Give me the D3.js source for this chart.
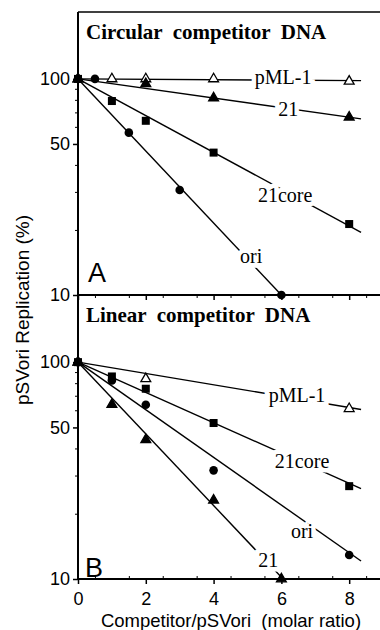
<!DOCTYPE html>
<html>
<head>
<meta charset="utf-8">
<script src="https://cdn.jsdelivr.net/npm/d3@7"></script>
<style>
  body { margin: 0; background: #fff; }
  .tick text { font-family: "Liberation Sans", Arial, sans-serif; }
</style>
</head>
<body>
<svg id="chart" width="380" height="630"></svg>
<script>
// ---- data (molar ratio vs % replication) ----
var circPml1 = [[0, 100], [1, 100], [2, 100], [4, 100], [8, 97.5]];
var circ21 = [[0, 100], [2, 95], [4, 81.5], [8, 66.5]];
var circ21core = [[0, 100], [1, 79], [2, 64], [4, 45.6], [8, 21.3]];
var circOri = [[0, 100], [0.5, 100], [1.5, 56.4], [3, 30.6], [6, 10]];

var linPml1 = [[0, 100], [2, 83.8], [8, 61]];
var lin21core = [[0, 100], [1, 85.9], [2, 75.4], [4, 52.4], [8, 26.8]];
var linOri = [[0, 100], [1, 82.4], [2, 63.6], [4, 31.7], [8, 12.9]];
var lin21 = [[0, 100], [1, 63.8], [2, 43.9], [4, 23.1], [6, 10]];

// fitted lines: start and end points
var circFits = { "pML-1": [[0, 100], [8.35, 98.2]], "21": [[0, 100], [8.35, 65.3]],
                 "21core": [[0, 100], [8.35, 19.5]], "ori": [[0, 100], [6, 10]] };
var linFits = { "pML-1": [[0, 100], [8.35, 60.5]], "21core": [[0, 100], [8.35, 26.1]],
                "ori": [[0, 100], [8.35, 12.1]], "21": [[0, 100], [6.05, 10]] };

// label anchors (data coords)
var circLabels = [["pML-1", 6.05, 102], ["21", 6.2, 72.6], ["21core", 6.11, 29.0], ["ori", 5.11, 15.2]];
var linLabels = [["pML-1", 6.46, 70.2], ["21core", 6.61, 34.9], ["ori", 6.61, 16.6], ["21", 5.61, 12.2]];

var xTicks = [0, 2, 4, 6, 8];
var yTicks = [10, 50, 100];
var yMinor = [20, 30, 40, 60, 70, 80, 90];

var svg = d3.select("#chart");

var x = d3.scaleLinear().domain([0, 8.85]).range([78, 378]);

var serif = "'Liberation Serif', 'Times New Roman', serif";
var sans = "'Liberation Sans', Arial, sans-serif";

/**
 * draws one marker shape at (px, py)
 */
function drawMarker(g, kind, px, py) {
    if (kind === "circle") {
        g.append("circle").attr("cx", px).attr("cy", py).attr("r", 4.3).attr("fill", "black");
    } else if (kind === "square") {
        g.append("rect").attr("x", px - 4).attr("y", py - 4).attr("width", 8).attr("height", 8).attr("fill", "black");
    } else {
        var sym = d3.symbol().type(d3.symbolTriangle).size(42);
        g.append("path")
            .attr("d", sym())
            .attr("transform", "translate(" + px + "," + py + ")")
            .attr("fill", kind === "opentri" ? "white" : "black")
            .attr("stroke", "black")
            .attr("stroke-width", 1.3);
    }
}

function loadPanel(top, bottom, series, fits, labels, title, letter, showXLabels) {
    var y = d3.scaleLog().domain([10, 204]).range([bottom, top]);
    var g = svg.append("g");

    // fit lines
    Object.keys(fits).forEach(function(k) {
        var f = fits[k];
        g.append("line")
            .attr("x1", x(f[0][0])).attr("y1", y(f[0][1]))
            .attr("x2", x(f[1][0])).attr("y2", y(f[1][1]))
            .attr("stroke", "black").attr("stroke-width", 1.4);
    });

    // curve labels with white halo to break the lines
    labels.forEach(function(l) {
        g.append("text")
            .attr("x", x(l[1])).attr("y", y(l[2]))
            .attr("dy", "0.35em")
            .attr("text-anchor", "middle")
            .style("font-family", serif)
            .style("font-size", "20px")
            .attr("stroke", "white").attr("stroke-width", 9)
            .style("paint-order", "stroke")
            .text(l[0]);
    });

    // markers
    series.forEach(function(s) {
        s.data.forEach(function(d) {
            drawMarker(g, s.kind, x(d[0]), y(d[1]));
        });
    });

    // left axis
    svg.append("g")
        .attr("transform", "translate(78,0)")
        .call(d3.axisLeft(y).tickValues(yTicks).tickFormat(d3.format("d")).tickSize(5).tickPadding(3))
        .call(function(a) {
            a.select(".domain").attr("stroke-width", 2).attr("d", "M0," + top + "V" + bottom);
            a.selectAll("line").attr("stroke-width", 1.5);
            a.selectAll("text").style("font-size", "18px").attr("fill", "black");
        });
    svg.append("g")
        .attr("transform", "translate(78,0)")
        .call(d3.axisLeft(y).tickValues(yMinor).tickFormat("").tickSize(3))
        .call(function(a) { a.select(".domain").remove(); });

    // top border
    svg.append("line")
        .attr("x1", 78).attr("x2", 380).attr("y1", top).attr("y2", top)
        .attr("stroke", "black").attr("stroke-width", 1.6);

    // bottom axis of this panel
    var xa = svg.append("g")
        .attr("transform", "translate(0," + bottom + ")")
        .call(d3.axisBottom(x).tickValues(xTicks).tickSize(5).tickPadding(8)
            .tickFormat(showXLabels ? d3.format("d") : ""));
    xa.select(".domain").attr("stroke-width", 2).attr("d", "M78,0H380");
    xa.selectAll("line").attr("stroke-width", 1.5);
    xa.selectAll("text").style("font-size", "18px").attr("fill", "black");
    svg.append("g")
        .attr("transform", "translate(0," + bottom + ")")
        .call(d3.axisBottom(x).tickValues(d3.range(0.5, 8.6, 1)).tickSize(showXLabels ? -3 : 3).tickFormat(""))
        .call(function(a) { a.select(".domain").remove(); });

    // title
    svg.append("text")
        .attr("x", 86).attr("y", top + 27)
        .style("font-family", serif)
        .style("font-weight", "bold")
        .style("font-size", "21px")
        .style("white-space", "pre")
        .text(title);

    // panel letter
    svg.append("text")
        .attr("x", letter === "A" ? 88 : 85).attr("y", bottom - (letter === "A" ? 13 : 2))
        .style("font-family", sans)
        .style("font-size", "27px")
        .text(letter);
}

loadPanel(12, 295, [
    { kind: "opentri", data: circPml1 },
    { kind: "tri", data: circ21 },
    { kind: "square", data: circ21core },
    { kind: "circle", data: circOri }
], circFits, circLabels, "Circular  competitor  DNA", "A", false);

loadPanel(295, 579, [
    { kind: "opentri", data: linPml1 },
    { kind: "square", data: lin21core },
    { kind: "circle", data: linOri },
    { kind: "tri", data: lin21 }
], linFits, linLabels, "Linear  competitor  DNA", "B", true);

// axis titles
svg.append("text")
    .attr("transform", "translate(29,310) rotate(-90)")
    .attr("text-anchor", "middle")
    .style("font-family", sans)
    .style("font-size", "19px")
    .text("pSVori Replication (%)");

svg.append("text")
    .attr("x", 231).attr("y", 627)
    .attr("text-anchor", "middle")
    .style("font-family", sans)
    .style("font-size", "18.5px")
    .style("white-space", "pre")
    .text("Competitor/pSVori  (molar ratio)");
</script>
</body>
</html>
